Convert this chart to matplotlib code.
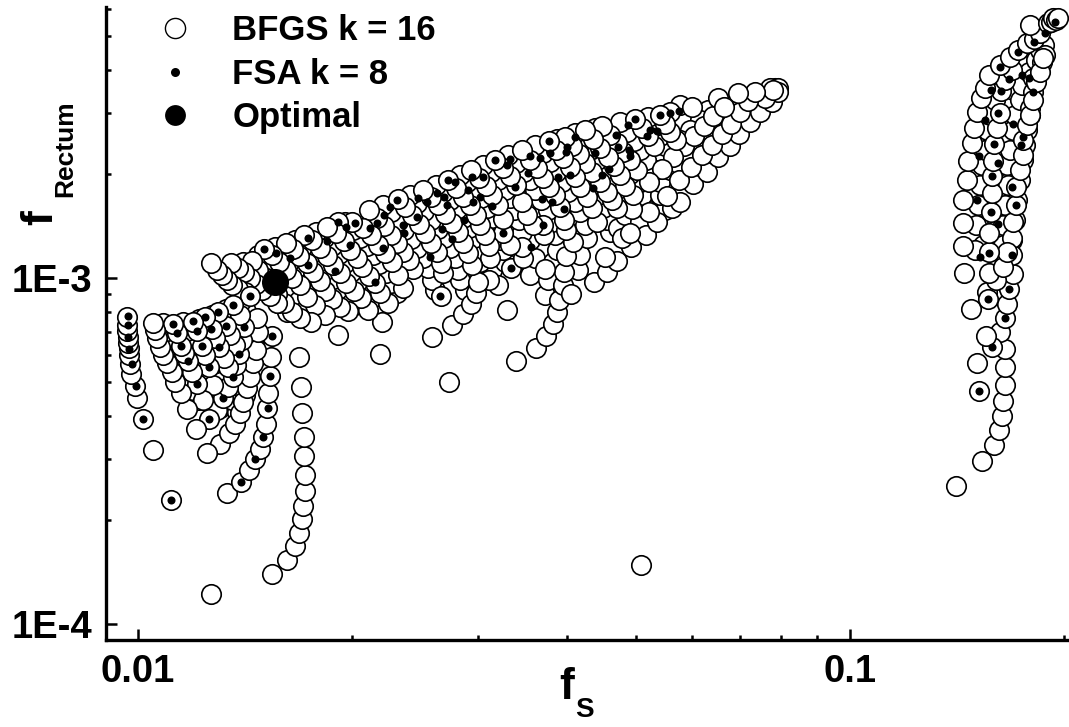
"""
Scatter of rectum dose fraction against fs for the BFGS and FSA runs
"""
import matplotlib
matplotlib.use('Agg')
import matplotlib.pyplot as plt
from matplotlib.lines import Line2D
from matplotlib.ticker import NullFormatter
import numpy as np

plt.rcParams['font.family'] = ['Liberation Sans', 'DejaVu Sans']

# values, as log10(f)
# every line is one run of points, lowest point first

# points that sit mostly hidden under the others, drawn first
bfgs_under_log_fs = [
    -1.791, -1.803, -1.813, -1.823, -1.833, -1.843, -1.853,
    -1.765, -1.774, -1.784, -1.794, -1.803, -1.812, -1.822, -1.831,
    -1.737, -1.749, -1.758, -1.768, -1.780, -1.788, -1.798, -1.808,
    -1.695, -1.711, -1.721, -1.729, -1.740, -1.749, -1.758, -1.770, -1.780,
    -1.671, -1.681, -1.691, -1.701, -1.709, -1.718, -1.728, -1.739, -1.750,
    -1.636, -1.645, -1.652, -1.662, -1.670, -1.678, -1.688, -1.698, -1.709,
    -1.583, -1.587, -1.593, -1.600, -1.608, -1.617, -1.626, -1.635, -1.645, -1.656,
    -1.541, -1.548, -1.551, -1.555, -1.562, -1.570, -1.579, -1.588, -1.598, -1.608, -1.618,
    -1.503, -1.520, -1.522, -1.528, -1.535, -1.544, -1.552, -1.562, -1.572, -1.581,
    -1.494, -1.485, -1.487, -1.492, -1.497, -1.503, -1.510, -1.518, -1.528, -1.538, -1.548,
    -1.449, -1.442, -1.449, -1.461, -1.465, -1.472, -1.478, -1.485, -1.494, -1.504, -1.515,
    -1.428, -1.424, -1.417, -1.412, -1.414, -1.419, -1.424, -1.434, -1.442, -1.449, -1.458, -1.469, -1.480,
    -1.382, -1.379, -1.369, -1.372, -1.379, -1.386, -1.396, -1.404, -1.413, -1.421, -1.431, -1.442,
    -1.337, -1.341, -1.347, -1.354, -1.362, -1.372, -1.382, -1.390, -1.400, -1.412,
    -1.326, -1.316, -1.320, -1.329, -1.337, -1.345, -1.355, -1.365, -1.376, -1.386,
    -1.295, -1.288, -1.292, -1.298, -1.309, -1.319, -1.329, -1.339, -1.348, -1.358,
    -1.260, -1.267, -1.267, -1.274, -1.286, -1.295, -1.303, -1.313, -1.323,
    -1.260, -1.267, -1.274, -1.284,
    -1.253, -1.239, -1.225, -1.211, -1.197, -1.183, -1.169, -1.154,
    -1.199, -1.211, -1.225, -1.239,
    -1.126, -1.115, -1.105, -1.112, -1.101,
    -1.916, -1.924, -1.931, -1.938, -1.944, -1.949, -1.955, -1.959, -1.965,
    -1.885, -1.893, -1.902, -1.909, -1.914, -1.920, -1.926, -1.931, -1.937,
    -1.861, -1.868, -1.876, -1.883, -1.890, -1.896, -1.902, -1.909, -1.914,
    -1.850, -1.854, -1.860, -1.867, -1.874, -1.881, -1.888, -1.896,
    -1.846, -1.848, -1.855, -1.862, -1.868, -1.876,
    -1.837, -1.840, -1.843, -1.848, -1.855,
    -.813, -.810, -.810, -.809, -.808, -.805, -.801, -.799, -.792, -.785,
    -.792, -.794, -.792, -.791, -.788, -.785, -.782, -.779, -.775, -.771, -.764, -.758,
    -.772, -.769, -.765, -.762, -.757, -.754, -.751, -.747, -.746, -.744, -.742, -.737,
]
bfgs_under_log_frectum = [
    -3.098, -3.072, -3.046, -3.023, -2.997, -2.977, -2.954,
    -3.104, -3.078, -3.052, -3.026, -3.000, -2.977, -2.954, -2.934,
    -3.072, -3.055, -3.026, -3.003, -2.977, -2.954, -2.934, -2.910,
    -3.078, -3.058, -3.035, -3.006, -2.983, -2.957, -2.934, -2.910, -2.890,
    -3.058, -3.032, -3.009, -2.983, -2.957, -2.931, -2.908, -2.884, -2.867,
    -3.043, -3.014, -2.986, -2.960, -2.934, -2.908, -2.884, -2.861, -2.838,
    -3.035, -3.006, -2.971, -2.942, -2.913, -2.887, -2.861, -2.835, -2.809, -2.789,
    -3.035, -3.006, -2.977, -2.942, -2.913, -2.884, -2.858, -2.832, -2.806, -2.783, -2.760,
    -2.977, -2.954, -2.919, -2.884, -2.855, -2.827, -2.801, -2.775, -2.751, -2.731,
    -3.020, -2.954, -2.919, -2.890, -2.855, -2.827, -2.798, -2.769, -2.746, -2.723, -2.702,
    -2.991, -2.942, -2.890, -2.867, -2.832, -2.803, -2.769, -2.746, -2.717, -2.694, -2.673,
    -3.049, -3.006, -2.954, -2.919, -2.876, -2.838, -2.803, -2.775, -2.746, -2.717, -2.694, -2.668, -2.645,
    -2.977, -2.934, -2.884, -2.847, -2.809, -2.780, -2.751, -2.723, -2.694, -2.665, -2.639, -2.616,
    -2.867, -2.832, -2.798, -2.760, -2.734, -2.705, -2.676, -2.647, -2.622, -2.598,
    -2.855, -2.818, -2.775, -2.746, -2.711, -2.688, -2.659, -2.630, -2.604, -2.581,
    -2.838, -2.798, -2.760, -2.725, -2.699, -2.671, -2.645, -2.619, -2.592, -2.566,
    -2.803, -2.760, -2.723, -2.688, -2.659, -2.630, -2.604, -2.578, -2.549,
    -2.619, -2.590, -2.561, -2.535,
    -2.688, -2.673, -2.645, -2.607, -2.578, -2.543, -2.514, -2.486,
    -2.514, -2.543, -2.572, -2.601,
    -2.471, -2.462, -2.451, -2.451, -2.451,
    -3.353, -3.324, -3.289, -3.257, -3.231, -3.205, -3.179, -3.153, -3.130,
    -3.376, -3.338, -3.301, -3.269, -3.237, -3.208, -3.182, -3.153, -3.127,
    -3.387, -3.353, -3.318, -3.280, -3.246, -3.214, -3.179, -3.147, -3.118,
    -3.338, -3.301, -3.266, -3.231, -3.202, -3.171, -3.139, -3.107,
    -3.260, -3.225, -3.191, -3.156, -3.121, -3.090,
    -3.194, -3.165, -3.127, -3.095, -3.066,
    -2.905, -2.847, -2.789, -2.731, -2.688, -2.630, -2.587, -2.543, -2.500, -2.471,
    -2.890, -2.832, -2.775, -2.717, -2.673, -2.630, -2.587, -2.543, -2.500, -2.457, -2.413, -2.384,
    -2.890, -2.832, -2.775, -2.717, -2.659, -2.616, -2.572, -2.529, -2.486, -2.442, -2.413, -2.393,
]

bfgs_log_fs = [
    # right cluster
    -.824, -.823, -.820, -.817, -.815, -.810, -.808, -.803, -.796, -.789,
    -.785, -.785, -.782, -.778, -.779, -.775, -.771, -.768, -.761, -.758, -.749, -.739, -.733, -.728,
    -.851, -.815, -.798, -.791, -.786, -.785, -.783, -.783, -.783, -.789, -.783, -.779, -.777, -.771, -.772, -.772, -.771, -.767, -.767, -.761, -.757, -.757, -.751, -.747, -.743, -.743, -.730, -.726,
    -.747, -.743, -.739, -.733, -.729,
    -.819, -.822, -.830, -.800, -.809, -.808, -.806, -.840, -.795, -.805, -.785, -.779,
    -.805, -.805, -.802, -.800, -.800, -.799, -.798, -.794, -.789, -.788, -.782, -.772,
    -.841, -.841, -.841, -.836, -.834, -.829, -.826, -.822, -.816, -.810, -.805, -.789, -.775, -.764, -.751, -.741, -.733, -.747, -.722, -.718, -.715, -.711, -.708,
    # far end of the upper lobe
    -1.360, -1.341, -1.327, -1.308, -1.287, -1.271, -1.250, -1.239, -1.220, -1.201, -1.185, -1.169, -1.156, -1.140, -1.126, -1.110, -1.101,
    -1.344, -1.320, -1.309, -1.282, -1.257, -1.240, -1.223, -1.208, -1.194, -1.180, -1.167, -1.154, -1.119, -1.108, -1.143,
    -1.306, -1.233, -1.219, -1.205, -1.192, -1.185, -1.133, -1.157, -1.177,
    # upper lobe, right to left
    -1.239, -1.222, -1.253,
    -1.249, -1.244, -1.253, -1.260, -1.267,
    -1.264, -1.275, -1.284, -1.292, -1.302,
    -1.282, -1.299, -1.309, -1.319, -1.327, -1.337, -1.348,
    -1.305, -1.316, -1.323, -1.331, -1.340, -1.351, -1.361, -1.372,
    -1.327, -1.334, -1.341, -1.351, -1.362, -1.372, -1.381, -1.390, -1.400,
    -1.355, -1.362, -1.369, -1.379, -1.386, -1.393, -1.403, -1.413, -1.423,
    -1.469, -1.441, -1.427, -1.417, -1.412, -1.409, -1.403, -1.402, -1.399, -1.389, -1.399, -1.402, -1.407, -1.414, -1.423, -1.431, -1.440, -1.449, -1.461, -1.392,
    -1.428, -1.430, -1.431, -1.445, -1.454, -1.461, -1.469, -1.478, -1.487, -1.499,
    -1.476, -1.459, -1.461, -1.478, -1.487, -1.487, -1.494, -1.503, -1.511, -1.521, -1.532,
    -1.482, -1.507, -1.506, -1.507, -1.513, -1.520, -1.525, -1.534, -1.544, -1.553, -1.565,
    -1.563, -1.587, -1.559, -1.544, -1.532, -1.525, -1.522, -1.531, -1.536, -1.544, -1.551, -1.559, -1.569, -1.579, -1.588, -1.600,
    -1.574, -1.572, -1.574, -1.580, -1.588, -1.597, -1.605, -1.615, -1.625, -1.635,
    -1.614, -1.619, -1.628, -1.636, -1.645, -1.655, -1.664, -1.676,
    -1.628, -1.635, -1.643, -1.653, -1.663, -1.673, -1.684, -1.699, -1.719,
    -1.649, -1.660, -1.667, -1.676, -1.685, -1.692, -1.702, -1.711, -1.722, -1.734,
    -1.660, -1.657, -1.677, -1.687, -1.697, -1.708, -1.716, -1.726, -1.735, -1.744, -1.756, -1.767,
    -1.705, -1.716, -1.728, -1.737, -1.744, -1.754, -1.763, -1.774, -1.782, -1.792,
    -1.719, -1.737, -1.751, -1.763, -1.772, -1.784, -1.792, -1.802, -1.812, -1.823,
    -1.757, -1.772, -1.784, -1.795, -1.805, -1.815, -1.823, -1.831, -1.840,
    -1.805, -1.815, -1.826, -1.834, -1.843, -1.851, -1.860, -1.869,
    -1.850, -1.860, -1.868, -1.875, -1.882, -1.889, -1.897,
    # isolated points and long tails
    -1.294, -1.897, -1.954,
    -1.812, -1.791, -1.780, -1.774, -1.770, -1.768, -1.765, -1.765, -1.767, -1.767, -1.770, -1.771, -1.774,
    -1.875, -1.855, -1.844, -1.836, -1.829, -1.824, -1.820, -1.819, -1.817, -1.815, -1.813, -1.812,
    # lower lobe
    -1.885, -1.872, -1.864, -1.857, -1.853, -1.847, -1.843, -1.838, -1.834, -1.831, -1.833, -1.843,
    -1.889, -1.881, -1.874, -1.867, -1.862, -1.858, -1.854, -1.851, -1.857, -1.867,
    -1.864, -1.871, -1.876, -1.888,
    -1.874, -1.879, -1.886, -1.892, -1.896, -1.906,
    -1.895, -1.900, -1.906, -1.910, -1.917, -1.923,
    -1.900, -1.909, -1.917, -1.924, -1.930, -1.935, -1.940, -1.945, -1.951,
    -1.903, -1.919, -1.931, -1.940, -1.948, -1.952, -1.959, -1.965, -1.969, -1.973, -1.976, -1.979,
    -1.979, -1.993, -2.001, -2.004, -2.010, -2.011, -2.013, -2.013, -2.014, -2.014, -2.015, -2.015, -2.015,
]
bfgs_log_frectum = [
    -2.919, -2.847, -2.789, -2.731, -2.673, -2.630, -2.572, -2.529, -2.486, -2.442,
    -2.905, -2.847, -2.789, -2.731, -2.673, -2.630, -2.572, -2.529, -2.486, -2.442, -2.405, -2.370, -2.341, -2.327,
    -3.601, -3.529, -3.483, -3.439, -3.399, -3.355, -3.309, -3.257, -3.205, -3.156, -3.116, -3.075, -3.032, -2.988, -2.934, -2.884, -2.838, -2.789, -2.737, -2.688, -2.645, -2.601, -2.558, -2.509, -2.462, -2.422, -2.376, -2.356,
    -2.529, -2.486, -2.434, -2.405, -2.364,
    -3.327, -3.246, -3.090, -3.199, -3.168, -3.040, -3.061, -2.986, -3.006, -2.986, -2.968, -2.925,
    -2.925, -2.870, -2.809, -2.754, -2.705, -2.662, -2.613, -2.566, -2.523, -2.460, -2.428, -2.399,
    -2.908, -2.841, -2.775, -2.717, -2.662, -2.610, -2.566, -2.520, -2.480, -2.451, -2.413, -2.384, -2.361, -2.341, -2.321, -2.309, -2.292, -2.269, -2.263, -2.260, -2.249, -2.254, -2.249,
    -3.012, -2.983, -2.951, -2.910, -2.876, -2.838, -2.798, -2.780, -2.728, -2.694, -2.650, -2.619, -2.584, -2.549, -2.520, -2.491, -2.462,
    -2.939, -2.884, -2.870, -2.809, -2.763, -2.717, -2.679, -2.645, -2.616, -2.584, -2.555, -2.520, -2.480, -2.457, -2.488,
    -2.801, -2.619, -2.590, -2.561, -2.532, -2.480, -2.462, -2.465, -2.506,
    -2.500, -2.506, -2.520,
    -2.650, -2.601, -2.578, -2.555, -2.529,
    -2.685, -2.619, -2.590, -2.566, -2.540,
    -2.723, -2.688, -2.659, -2.636, -2.610, -2.587, -2.561,
    -2.760, -2.734, -2.702, -2.676, -2.650, -2.624, -2.598, -2.572,
    -2.798, -2.775, -2.751, -2.723, -2.694, -2.668, -2.642, -2.619, -2.593,
    -2.838, -2.798, -2.766, -2.737, -2.708, -2.679, -2.653, -2.630, -2.604,
    -3.240, -3.202, -3.168, -3.133, -3.098, -3.064, -3.020, -2.983, -2.936, -2.896, -2.861, -2.832, -2.795, -2.760, -2.737, -2.711, -2.682, -2.659, -2.630, -3.046,
    -2.974, -2.876, -2.847, -2.847, -2.818, -2.780, -2.731, -2.705, -2.682, -2.659,
    -2.971, -2.942, -2.910, -2.905, -2.870, -2.829, -2.789, -2.760, -2.734, -2.711, -2.688,
    -3.092, -3.006, -2.942, -2.908, -2.876, -2.847, -2.818, -2.789, -2.766, -2.740, -2.717,
    -3.301, -3.171, -3.136, -3.104, -3.075, -3.043, -3.012, -2.962, -2.928, -2.899, -2.867, -2.841, -2.815, -2.789, -2.766, -2.746,
    -3.052, -2.986, -2.957, -2.925, -2.899, -2.870, -2.844, -2.818, -2.795, -2.772,
    -2.974, -2.948, -2.925, -2.899, -2.876, -2.850, -2.827, -2.803,
    -3.029, -2.991, -2.954, -2.928, -2.905, -2.876, -2.855, -2.838, -2.838,
    -3.072, -3.043, -3.014, -2.994, -2.968, -2.942, -2.919, -2.893, -2.870, -2.853,
    -3.220, -3.127, -3.092, -3.058, -3.038, -3.014, -2.986, -2.962, -2.936, -2.913, -2.890, -2.876,
    -3.095, -3.084, -3.061, -3.038, -3.009, -2.983, -2.957, -2.936, -2.916, -2.899,
    -3.165, -3.107, -3.078, -3.055, -3.020, -3.000, -2.977, -2.954, -2.934, -2.916,
    -3.127, -3.116, -3.098, -3.072, -3.046, -3.017, -2.997, -2.977, -2.951,
    -3.072, -3.052, -3.035, -3.017, -3.000, -2.983, -2.971, -2.957,
    -3.040, -3.032, -3.020, -3.006, -2.991, -2.977, -2.957,
    -3.829, -3.913, -3.642,
    -3.855, -3.815, -3.775, -3.737, -3.696, -3.659, -3.616, -3.569, -3.514, -3.459, -3.390, -3.315, -3.228,
    -3.621, -3.590, -3.555, -3.523, -3.494, -3.459, -3.422, -3.376, -3.332, -3.283, -3.228, -3.168,
    -3.480, -3.448, -3.422, -3.390, -3.358, -3.318, -3.286, -3.246, -3.208, -3.156, -3.116, -3.052,
    -3.381, -3.347, -3.315, -3.286, -3.251, -3.220, -3.179, -3.142, -3.107, -3.078,
    -3.194, -3.165, -3.139, -3.098,
    -3.257, -3.231, -3.199, -3.173, -3.147, -3.113,
    -3.309, -3.257, -3.223, -3.197, -3.153, -3.127,
    -3.407, -3.353, -3.306, -3.272, -3.240, -3.217, -3.197, -3.159, -3.133,
    -3.506, -3.436, -3.379, -3.332, -3.301, -3.272, -3.246, -3.223, -3.200, -3.174, -3.150, -3.130,
    -3.497, -3.407, -3.347, -3.312, -3.277, -3.249, -3.223, -3.202, -3.188, -3.171, -3.153, -3.136, -3.113,
]

fsa_log_fs = [
    -2.014, -2.014, -2.014, -2.013, -2.008, -2.003, -1.993, -1.954,
    -1.951, -1.945, -1.940, -1.930, -1.917, -1.900,
    -1.923, -1.917, -1.910, -1.900, -1.881,
    -1.906, -1.897, -1.886, -1.867,
    -1.888, -1.876, -1.858, -1.867, -1.851, -1.843,
    -1.812, -1.815, -1.817, -1.824, -1.836, -1.855,
    -1.823, -1.806, -1.787, -1.761, -1.723, -1.667, -1.761, -1.735, -1.719, -1.708, -1.695, -1.702, -1.656,
    -1.674, -1.664, -1.655, -1.636, -1.646, -1.628, -1.626, -1.608, -1.607, -1.594, -1.580, -1.570, -1.566,
    -1.565, -1.555, -1.531, -1.515, -1.536, -1.520, -1.529, -1.503, -1.542, -1.499, -1.478, -1.482,
    -1.449, -1.435, -1.423, -1.421, -1.397, -1.386, -1.399, -1.452, -1.471, -1.410, -1.393, -1.361,
    -1.433, -1.419, -1.401, -1.431, -1.487, -1.448, -1.476, -1.559, -1.573, -1.590, -1.576,
    -1.267, -1.253, -1.240, -1.302, -1.281, -1.271, -1.285, -1.312, -1.329, -1.326, -1.358, -1.310, -1.309, -1.338, -1.348,
    -.819, -.800, -.783, -.806, -.777, -.772, -.817, -.805, -.792, -.767, -.822, -.802, -.772, -.800, -.792, -.819, -.798,
    -.760, -.757, -.810, -.771, -.792, -.743, -.788, -.802, -.777, -.758, -.749, -.789, -.764, -.741, -.726, -.712,
]
fsa_log_frectum = [
    -3.110, -3.136, -3.171, -3.205, -3.249, -3.312, -3.407, -3.642,
    -3.133, -3.159, -3.197, -3.240, -3.306, -3.407,
    -3.124, -3.153, -3.197, -3.257, -3.347,
    -3.113, -3.147, -3.199, -3.286,
    -3.098, -3.139, -3.220, -3.078, -3.142, -3.052,
    -3.168, -3.283, -3.376, -3.459, -3.523, -3.590,
    -2.916, -2.928, -2.942, -2.962, -2.980, -3.012, -2.884, -2.893, -2.838, -2.853, -2.841, -2.905, -2.913,
    -2.855, -2.841, -2.818, -2.775, -2.795, -2.847, -2.870, -2.824, -2.769, -2.780, -2.754, -2.766, -2.789,
    -2.717, -2.723, -2.708, -2.708, -2.746, -2.766, -2.780, -2.792, -2.832, -2.659, -2.656, -2.673,
    -2.647, -2.653, -2.604, -2.639, -2.622, -2.593, -2.636, -2.697, -2.737, -2.708, -2.702, -2.740,
    -2.772, -2.780, -2.801, -2.847, -2.870, -2.910, -2.971, -2.887, -2.858, -2.939, -3.052,
    -2.529, -2.523, -2.517, -2.540, -2.572, -2.575, -2.590, -2.558, -2.587, -2.621, -2.639, -2.630, -2.647, -2.685, -2.702,
    -3.327, -3.199, -3.116, -3.061, -3.032, -2.934, -2.939, -2.928, -2.844, -2.789, -2.775, -2.809, -2.737, -2.705, -2.668, -2.647, -2.613,
    -2.616, -2.592, -2.543, -2.555, -2.523, -2.462, -2.460, -2.457, -2.425, -2.413, -2.422, -2.390, -2.347, -2.318, -2.292, -2.260,
]

optimal_fs = [0.01556]
optimal_frectum = [9.72e-4]

legend_labels = ['BFGS k = 16', 'FSA k = 8', 'Optimal']
x_ticks = [0.01, 0.1]
x_tick_labels = ['0.01', '0.1']
y_ticks = [1e-4, 1e-3]
y_tick_labels = ['1E-4', '1E-3']

W, H = 1069, 727
fig = plt.figure(figsize=(W / 100, H / 100), dpi=100)
ax = fig.add_axes([106 / W, (H - 640) / H, (W - 106) / W, (640 - 7) / H])

circle_style = dict(ls='none', marker='o', ms=14, mfc='white', mec='black', mew=1.2, clip_on=False)
ax.plot(10.0 ** np.array(bfgs_under_log_fs), 10.0 ** np.array(bfgs_under_log_frectum), **circle_style)
ax.plot(10.0 ** np.array(bfgs_log_fs), 10.0 ** np.array(bfgs_log_frectum), **circle_style)
ax.plot(10.0 ** np.array(fsa_log_fs), 10.0 ** np.array(fsa_log_frectum), ls='none', marker='o',
        ms=5.8, mfc='black', mec='black', mew=0, clip_on=False)
ax.plot(optimal_fs, optimal_frectum, ls='none', marker='o', ms=19.5, mfc='black', mec='black', mew=0)

ax.set_xscale('log')
ax.set_yscale('log')
ax.set_xlim(0.00902, 0.2030)
ax.set_ylim(8.99e-5, 6.07e-3)
ax.spines['top'].set_visible(False)
ax.spines['right'].set_visible(False)
ax.spines['left'].set_linewidth(2.4)
ax.spines['bottom'].set_linewidth(2.4)

ax.set_xticks(x_ticks, x_tick_labels)
ax.set_yticks(y_ticks, y_tick_labels)
ax.xaxis.set_minor_formatter(NullFormatter())
ax.yaxis.set_minor_formatter(NullFormatter())
ax.tick_params(which='major', direction='in', length=8, width=1.8, pad=10, labelsize=27.5)
ax.tick_params(which='minor', direction='in', length=3.5, width=1.8)
for lab in ax.get_xticklabels() + ax.get_yticklabels():
    lab.set_fontweight('bold')

handles = [
    Line2D([], [], ls='none', marker='o', ms=14.5, mfc='white', mec='black', mew=1.0),
    Line2D([], [], ls='none', marker='o', ms=6.5, mfc='black', mec='black', mew=0),
    Line2D([], [], ls='none', marker='o', ms=15, mfc='black', mec='black', mew=0),
]
ax.legend(handles, legend_labels, loc='upper left', bbox_to_anchor=(0.043, 0.989), frameon=False, borderpad=0,
          borderaxespad=0, handlelength=1.6, handletextpad=0.84, labelspacing=0.31,
          prop={'weight': 'bold', 'size': 25})

# axis titles with their subscripts
fig.text(559 / W, 1 - 699 / H, 'f', fontsize=32, fontweight='bold', ha='left', va='baseline')
fig.text(575 / W, 1 - 717 / H, 'S', fontsize=20, fontweight='bold', ha='left', va='baseline')
fig.text(61 / W, 1 - 225 / H, 'f', fontsize=32, fontweight='bold', rotation=90, ha='right', va='bottom')
fig.text(77 / W, 1 - 197 / H, 'Rectum', fontsize=19, fontweight='bold', rotation=90, ha='right', va='bottom')

fig.savefig('out.png', dpi=100)
